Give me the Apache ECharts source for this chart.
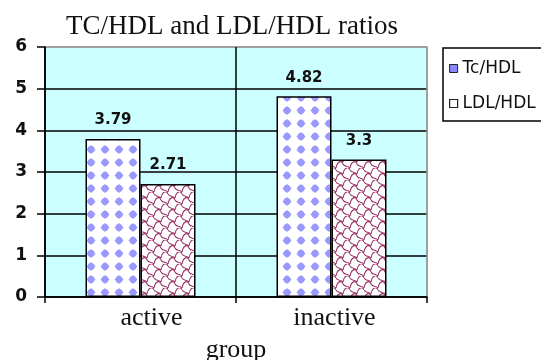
<!DOCTYPE html>
<html>
<head>
<meta charset="utf-8">
<script src="https://cdn.jsdelivr.net/npm/echarts@6/dist/echarts.min.js"></script>
<style>html,body{margin:0;padding:0;background:#fff}#c{width:541px;height:360px}</style>
</head>
<body>
<div id="c"></div>
<script>
const categories = ['active', 'inactive'];
const tcHdl = [3.79, 4.82];
const ldlHdl = [2.71, 3.3];
const seriesNames = ['Tc/HDL', 'LDL/HDL'];
const yTicks = [0, 1, 2, 3, 4, 5, 6];

function diamondPattern() {
  const c = document.createElement('canvas');
  c.width = 14; c.height = 13;
  const g = c.getContext('2d');
  g.fillStyle = '#ffffff'; g.fillRect(0, 0, 14, 13);
  g.fillStyle = '#9999ff';
  g.beginPath();
  g.moveTo(7, 2); g.lineTo(11.5, 6.5); g.lineTo(7, 11); g.lineTo(2.5, 6.5); g.closePath(); g.fill();
  g.beginPath(); g.arc(7, 6.5, 3.4, 0, 2 * Math.PI); g.fill();
  return c;
}
function scalePattern() {
  const c = document.createElement('canvas');
  c.width = 14; c.height = 12;
  const g = c.getContext('2d');
  g.fillStyle = '#ffffff'; g.fillRect(0, 0, 14, 12);
  g.strokeStyle = '#993366'; g.lineWidth = 1.1;
  g.beginPath(); g.moveTo(0, 12); g.bezierCurveTo(1, 5, 6, 4, 7, 8); g.bezierCurveTo(8, 11, 13, 10, 14, 12); g.stroke();
  g.beginPath(); g.moveTo(7, 6); g.bezierCurveTo(8, -1, 13, -2, 14, 2); g.stroke();
  g.beginPath(); g.moveTo(0, 2); g.bezierCurveTo(1, 5, 6, 4, 7, 6); g.stroke();
  return c;
}

const chart = echarts.init(document.getElementById('c'));
const labelStyle = {
  show: true, position: 'top', distance: 11,
  fontFamily: 'DejaVu Sans', fontWeight: 'bold', fontSize: 15, color: '#111'
};
const labelShift = [22, 6];
chart.setOption({
  animation: false,
  backgroundColor: '#ffffff',
  title: {
    text: 'TC/HDL and LDL/HDL ratios',
    left: 227, top: 8, textAlign: 'center',
    textStyle: { fontFamily: 'Liberation Serif', fontWeight: 'normal', fontSize: 27, color: '#111' }
  },
  legend: {
    orient: 'vertical', left: 443, top: 48,
    padding: [12, 40, 9, 6], itemGap: 18,
    borderColor: '#000', borderWidth: 1.5,
    icon: 'rect', itemWidth: 8, itemHeight: 8,
    textStyle: { fontFamily: 'DejaVu Sans', fontSize: 17, color: '#111' },
    data: [
      { name: seriesNames[0], itemStyle: { color: '#8888ff', borderColor: '#222', borderWidth: 1 } },
      { name: seriesNames[1], itemStyle: { color: '#ffffff', borderColor: '#222', borderWidth: 1.2 } }
    ]
  },
  grid: {
    left: 45, right: 114, top: 47, bottom: 63,
    outerBoundsMode: 'none', containLabel: false,
    show: true, backgroundColor: '#ccffff', borderColor: '#999', borderWidth: 1.5
  },
  xAxis: {
    type: 'category',
    data: categories.map((c, i) => ({ value: c, textStyle: { padding: [0, 0, 0, labelShift[i]] } })),
    name: 'group', nameLocation: 'middle', nameGap: 40,
    nameTextStyle: { fontFamily: 'Liberation Serif', fontSize: 26, color: '#111' },
    axisLine: { show: true, lineStyle: { color: '#000', width: 1.5 } },
    axisTick: { show: true, length: 6, lineStyle: { color: '#000', width: 1.5 } },
    axisLabel: { fontFamily: 'Liberation Serif', fontSize: 26, color: '#111', margin: 8 },
    splitLine: { show: true, lineStyle: { color: ['#000', '#000', '#999'], width: 1.5 } }
  },
  yAxis: {
    type: 'value', min: yTicks[0], max: yTicks[yTicks.length - 1], interval: 1,
    axisLine: { show: true, lineStyle: { color: '#000', width: 1.5 } },
    axisTick: { show: true, length: 8, lineStyle: { color: '#000', width: 1.5 } },
    axisLabel: { fontFamily: 'DejaVu Sans', fontWeight: 'bold', fontSize: 17, color: '#111', margin: 18 },
    splitLine: { show: true, lineStyle: { color: ['#000', '#000', '#000', '#000', '#000', '#000', '#999'], width: 1.5 } }
  },
  series: [
    {
      name: seriesNames[0], type: 'bar', data: tcHdl,
      barWidth: 55, barGap: '0%',
      itemStyle: { color: { image: diamondPattern(), repeat: 'repeat' }, borderColor: '#000', borderWidth: 1.5 },
      label: labelStyle
    },
    {
      name: seriesNames[1], type: 'bar', data: ldlHdl,
      barWidth: 55, barGap: '0%',
      itemStyle: { color: { image: scalePattern(), repeat: 'repeat' }, borderColor: '#000', borderWidth: 1.5 },
      label: labelStyle
    }
  ]
});
</script>
</body>
</html>
